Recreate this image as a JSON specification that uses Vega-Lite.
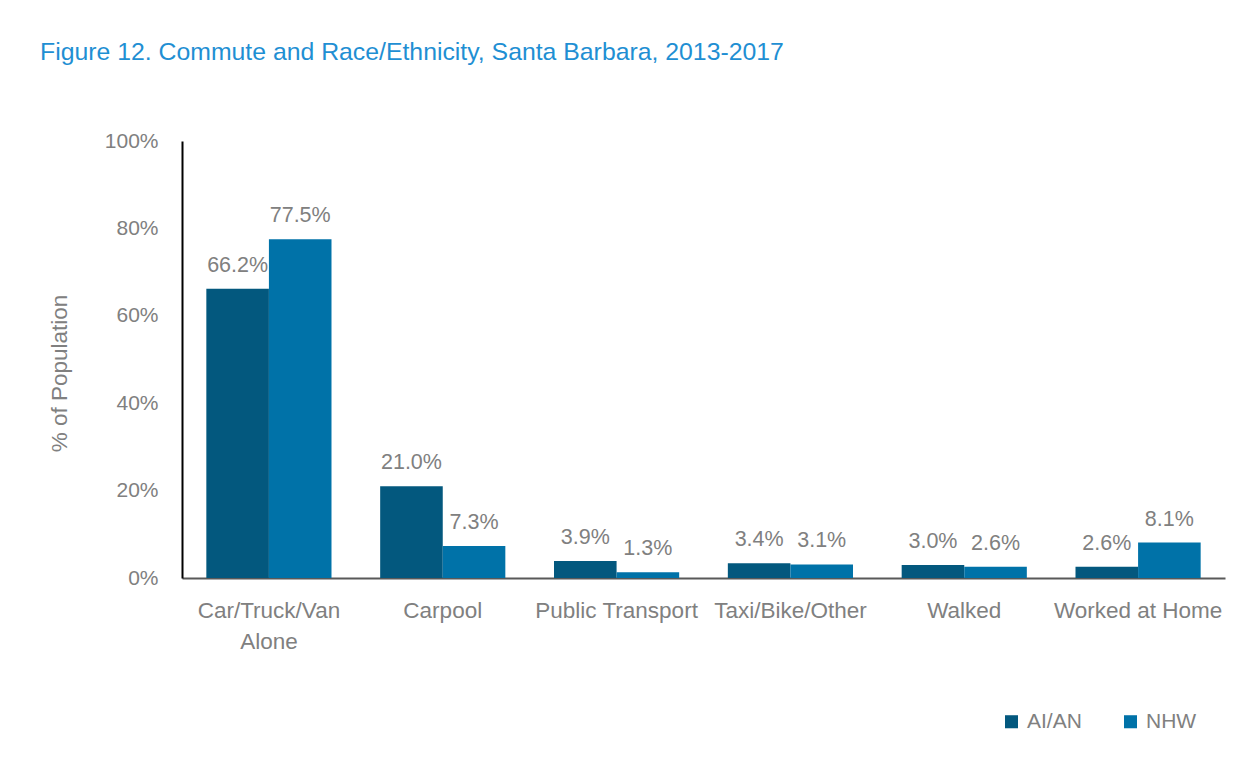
{
  "$schema": "https://vega.github.io/schema/vega-lite/v6.json",
  "autosize": "none",
  "width": 1043,
  "height": 437,
  "padding": {"left": 182, "top": 141, "right": 32, "bottom": 189},
  "background": "white",
  "config": {
    "font": "Liberation Sans, Arial, sans-serif",
    "view": {"stroke": null}
  },
  "title": {
    "text": "Figure 12. Commute and Race/Ethnicity, Santa Barbara, 2013-2017",
    "anchor": "start",
    "frame": "group",
    "dx": -142,
    "offset": 65,
    "fontSize": 24.8,
    "fontWeight": "normal",
    "color": "#1F8FD3"
  },
  "data": {
    "values": [
      {"mode": "Car/Truck/Van Alone", "group": "AI/AN", "value": 66.2},
      {"mode": "Car/Truck/Van Alone", "group": "NHW", "value": 77.5},
      {"mode": "Carpool", "group": "AI/AN", "value": 21.0},
      {"mode": "Carpool", "group": "NHW", "value": 7.3},
      {"mode": "Public Transport", "group": "AI/AN", "value": 3.9},
      {"mode": "Public Transport", "group": "NHW", "value": 1.3},
      {"mode": "Taxi/Bike/Other", "group": "AI/AN", "value": 3.4},
      {"mode": "Taxi/Bike/Other", "group": "NHW", "value": 3.1},
      {"mode": "Walked", "group": "AI/AN", "value": 3.0},
      {"mode": "Walked", "group": "NHW", "value": 2.6},
      {"mode": "Worked at Home", "group": "AI/AN", "value": 2.6},
      {"mode": "Worked at Home", "group": "NHW", "value": 8.1}
    ]
  },
  "encoding": {
    "x": {
      "field": "mode",
      "type": "nominal",
      "sort": null,
      "scale": {"paddingInner": 0.28, "paddingOuter": 0.14},
      "axis": {
        "title": null,
        "labelAngle": 0,
        "labelExpr": "datum.value == 'Car/Truck/Van Alone' ? ['Car/Truck/Van', 'Alone'] : datum.value",
        "labelFontSize": 22.5,
        "labelColor": "#808080",
        "labelLineHeight": 31,
        "labelPadding": 21,
        "ticks": false,
        "domainColor": "#595959",
        "domainWidth": 2
      }
    },
    "xOffset": {"field": "group", "type": "nominal", "scale": {"paddingInner": 0}},
    "y": {
      "field": "value",
      "type": "quantitative",
      "scale": {"domain": [0, 100]},
      "axis": {
        "title": "% of Population",
        "titleFontSize": 22.5,
        "titleFontWeight": "normal",
        "titleColor": "#808080",
        "titlePadding": 33,
        "titleY": 232,
        "values": [0, 20, 40, 60, 80, 100],
        "labelExpr": "datum.value + '%'",
        "labelFontSize": 21,
        "labelColor": "#808080",
        "labelPadding": 24,
        "ticks": false,
        "grid": false,
        "domainColor": "#000000",
        "domainWidth": 2
      }
    }
  },
  "layer": [
    {
      "mark": {"type": "bar"},
      "encoding": {
        "color": {
          "field": "group",
          "type": "nominal",
          "scale": {"domain": ["AI/AN", "NHW"], "range": ["#03587E", "#0072A8"]},
          "legend": {
            "title": null,
            "orient": "none",
            "direction": "horizontal",
            "legendX": 819,
            "legendY": 570,
            "symbolType": "square",
            "symbolSize": 170,
            "symbolStrokeWidth": 0,
            "labelFontSize": 21,
            "labelColor": "#808080",
            "columnPadding": 38,
            "labelOffset": 5
          }
        }
      }
    },
    {
      "mark": {
        "type": "text",
        "baseline": "bottom",
        "dy": -12,
        "fontSize": 21.5,
        "color": "#808080",
        "text": {"expr": "format(datum.value, '.1f') + '%'"}
      },
      "encoding": {
        "detail": {"field": "group"}
      }
    }
  ]
}
